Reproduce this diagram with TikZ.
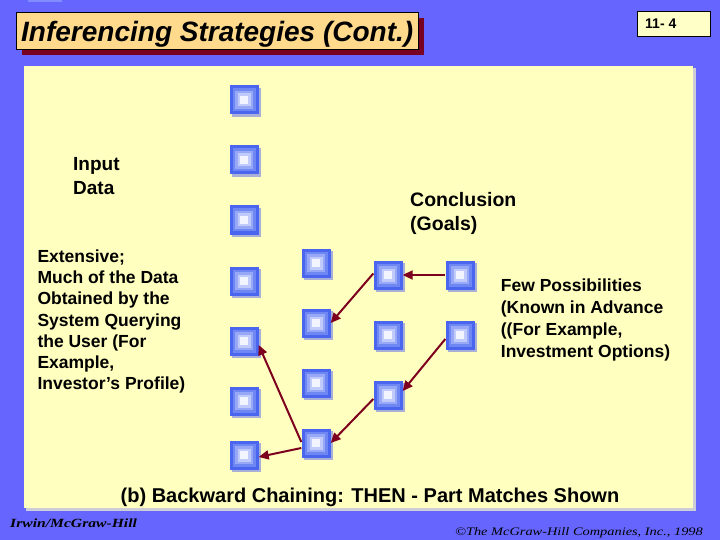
\documentclass[tikz,border=0pt]{standalone}
\usepackage{fontspec}
\setmainfont{Liberation Sans}
\newfontfamily\serifit{Liberation Serif}
\usetikzlibrary{arrows.meta,shadows}
\definecolor{bgc}{RGB}{102,102,255}
\definecolor{bgtab}{RGB}{128,140,255}
\definecolor{panelc}{RGB}{255,255,192}
\definecolor{panelsh}{RGB}{205,205,215}
\definecolor{titlec}{RGB}{255,218,140}
\definecolor{titlesh}{RGB}{120,0,32}
\definecolor{pagec}{RGB}{255,255,200}
\definecolor{sq1}{RGB}{74,102,238}
\definecolor{sq2}{RGB}{110,135,242}
\definecolor{sq3}{RGB}{150,168,246}
\definecolor{sq4}{RGB}{192,203,250}
\definecolor{sq5}{RGB}{242,244,255}
\definecolor{sqsh}{RGB}{170,175,215}
\definecolor{arrc}{RGB}{125,0,30}
\tikzset{
  sqbox/.style={minimum size=29pt, inner sep=0pt, fill=sq1,
    general shadow={fill=sqsh, shadow xshift=2.5pt, shadow yshift=-2.5pt},
    path picture={
      \foreach \i/\c in {3/sq2,5.5/sq3,8/sq4,10.5/sq5}{
        \fill[\c] ([shift={(\i pt,-\i pt)}]path picture bounding box.north west)
          rectangle ([shift={(-\i pt,\i pt)}]path picture bounding box.south east);
      }
    }},
  arr/.style={draw=arrc, line width=2pt, -{Triangle[length=10pt,width=9pt]}},
  lbl/.style={anchor=base west, inner sep=0pt, align=left, font=\bfseries},
}
\begin{document}
\begin{tikzpicture}[x=1pt,y=-1pt]
\useasboundingbox (0,0) rectangle (720,540);
% background
\fill[bgc] (0,0) rectangle (720,540);
\fill[bgtab] (28,0) rectangle (62,2.5);
% panel
\fill[panelsh] (26,68) rectangle (695.5,510.5);
\fill[panelc] (24,66.5) rectangle (693,508);
% title
\fill[titlesh] (22,18) rectangle (424,55);
\node[draw=black, line width=1pt, fill=titlec, minimum width=402pt, minimum height=37pt, anchor=north west, inner sep=0pt] (titlebox) at (16,12) {};
\node[anchor=base west, inner sep=0pt, font=\fontsize{28}{30}\selectfont\bfseries\itshape] (title) at (21,41.5) {Inferencing Strategies (Cont.)};
% page number
\node[draw=black, line width=0.8pt, fill=pagec, minimum width=73pt, minimum height=25pt, anchor=north west, inner sep=0pt] (pagebox) at (637,11) {};
\node[anchor=base west, inner sep=0pt, font=\fontsize{14}{16}\selectfont\bfseries] (pagenum) at (645,29) {11- 4};
% squares column 1
\node[sqbox] (a1) at (244,100) {};
\node[sqbox] (a2) at (244,160) {};
\node[sqbox] (a3) at (244,220) {};
\node[sqbox] (a4) at (244,281) {};
\node[sqbox] (a5) at (244,341) {};
\node[sqbox] (a6) at (244,401) {};
\node[sqbox] (a7) at (244,455) {};
% column 2
\node[sqbox] (b1) at (316,263) {};
\node[sqbox] (b2) at (316,323) {};
\node[sqbox] (b3) at (316,383) {};
\node[sqbox] (b4) at (316,443) {};
% column 3
\node[sqbox] (c1) at (388,275) {};
\node[sqbox] (c2) at (388,335) {};
\node[sqbox] (c3) at (388,395) {};
% column 4
\node[sqbox] (d1) at (460,275) {};
\node[sqbox] (d2) at (460,335) {};
% arrows
\draw[arr] (d1.west) -- (c1.east);
\draw[arr] ([yshift=1.5pt]c1.west) -- (b2.east);
\draw[arr] ([yshift=-4pt]d2.west) -- ([yshift=4pt]c3.east);
\draw[arr] ([yshift=-4pt]c3.west) -- (b4.east);
\draw[arr] ([yshift=1pt]b4.west) -- ([yshift=-4pt]a5.east);
\draw[arr] ([yshift=-5pt]b4.west) -- ([yshift=-2pt]a7.east);
% labels (base anchor = baseline of last line)
\node[lbl, font=\fontsize{19}{23.6}\selectfont\bfseries] (input) at (73,194.3) {Input\\Data};
\node[lbl, font=\fontsize{19.5}{24}\selectfont\bfseries] (concl) at (410,230.7) {Conclusion\\(Goals)};
\node[lbl, font=\fontsize{17.5}{21.1}\selectfont\bfseries] (extensive) at (37.3,389.3) {Extensive;\\Much of the Data\\Obtained by the\\System Querying\\the User (For\\Example,\\Investor’s Profile)};
\node[lbl, font=\fontsize{17.5}{22.1}\selectfont\bfseries] (few) at (500.7,357.3) {Few Possibilities\\(Known in Advance\\((For Example,\\Investment Options)};
\node[anchor=base, inner sep=0pt, font=\fontsize{20}{24}\selectfont\bfseries] (caption) at (370,502.5) {(b) Backward Chaining: THEN - Part Matches Shown};
% footer
\node[anchor=base west, inner sep=0pt, font=\serifit\fontsize{12.5}{14}\selectfont\bfseries\itshape] (irwin) at (10,527) {\scalebox{1.25}[1]{Irwin/McGraw-Hill}};
\node[anchor=base east, inner sep=0pt, font=\serifit\fontsize{11.5}{14}\selectfont\itshape] (copy) at (703,535) {\scalebox{1.25}[1]{©The McGraw-Hill Companies, Inc., 1998}};
\end{tikzpicture}
\end{document}
